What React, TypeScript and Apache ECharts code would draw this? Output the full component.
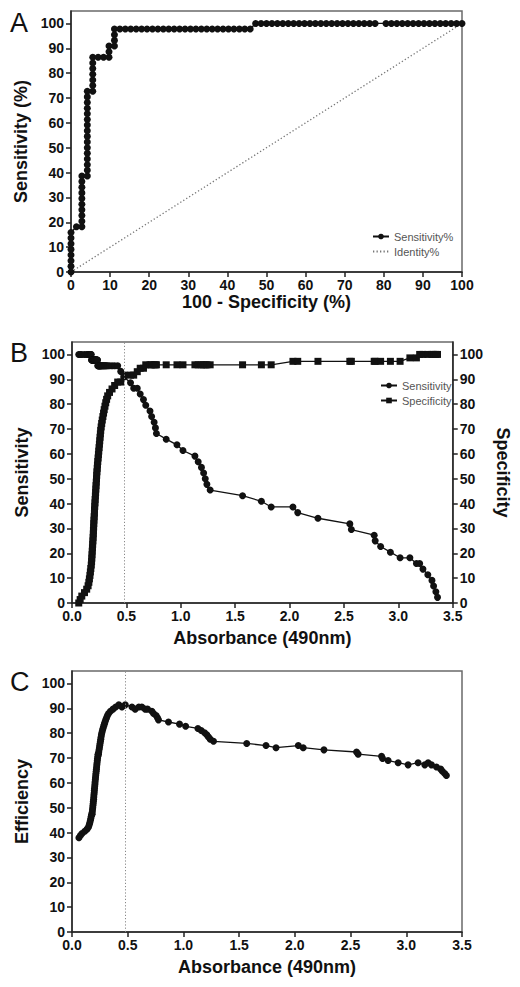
import React, { useEffect, useRef } from "react";
import * as echarts from "echarts";

const FONT = '"Liberation Sans", Arial, Helvetica, sans-serif';

// ---------- Panel A: ROC curve ----------
const rocFpr = [
  0, 0, 0, 0, 0, 0, 0, 0,
  1.39,
  2.78, 2.78, 2.78, 2.78, 2.78, 2.78, 2.78, 2.78, 2.78, 2.78,
  4.17, 4.17, 4.17, 4.17, 4.17, 4.17, 4.17, 4.17, 4.17, 4.17, 4.17, 4.17, 4.17, 4.17, 4.17, 4.17,
  5.56, 5.56, 5.56, 5.56, 5.56, 5.56, 5.56,
  6.94, 8.33, 9.72, 9.72, 9.72,
  11.11, 11.11, 11.11, 11.11,
  12.5, 13.89, 15.28, 16.67, 18.06, 19.44, 20.83, 22.22, 23.61, 25, 26.39, 27.78, 29.17,
  30.56, 31.94, 33.33, 34.72, 36.11, 37.5, 38.89, 40.28, 41.67, 43.06, 44.44, 45.83,
  47.22, 48.61, 50, 51.39, 52.78, 54.17, 55.56, 56.94, 58.33, 59.72, 61.11, 62.5, 63.89,
  65.28, 66.67, 68.06, 69.44, 70.83, 72.22, 73.61, 75, 76.39, 77.78,
  80.56, 81.94, 83.33, 84.72, 86.11, 87.5, 88.89, 90.28, 91.67, 93.06, 94.44, 95.83, 97.22, 98.61, 100,
];
const rocSens = [
  0, 2.27, 4.55, 6.82, 9.09, 11.36, 13.64, 15.91,
  18.18,
  18.18, 20.45, 22.73, 25, 27.27, 29.55, 31.82, 34.09, 36.36, 38.64,
  38.64, 40.91, 43.18, 45.45, 47.73, 50, 52.27, 54.55, 56.82, 59.09, 61.36, 63.64, 65.91, 68.18, 70.45, 72.73,
  72.73, 75, 77.27, 79.55, 81.82, 84.09, 86.36,
  86.36, 86.36, 86.36, 88.64, 90.91,
  90.91, 93.18, 95.45, 97.73,
  97.73, 97.73, 97.73, 97.73, 97.73, 97.73, 97.73, 97.73, 97.73, 97.73, 97.73, 97.73, 97.73,
  97.73, 97.73, 97.73, 97.73, 97.73, 97.73, 97.73, 97.73, 97.73, 97.73, 97.73, 97.73,
  100, 100, 100, 100, 100, 100, 100, 100, 100, 100, 100, 100, 100,
  100, 100, 100, 100, 100, 100, 100, 100, 100, 100,
  100, 100, 100, 100, 100, 100, 100, 100, 100, 100, 100, 100, 100, 100, 100,
];
const identityX = [0, 100];
const identityY = [0, 100];

// ---------- Panels B & C: cut-off analysis ----------
const absorbance = [
  0.062, 0.075, 0.09, 0.115, 0.135, 0.148, 0.155, 0.16, 0.165, 0.169, 0.173, 0.177,
  0.18, 0.182, 0.184, 0.186, 0.188, 0.19, 0.192, 0.194, 0.196, 0.197,
  0.199, 0.2, 0.202, 0.204, 0.206, 0.207, 0.209, 0.211, 0.213, 0.215,
  0.217, 0.219, 0.221, 0.223, 0.225, 0.227, 0.229, 0.232, 0.234,
  0.237, 0.24, 0.243, 0.246, 0.249, 0.252, 0.255, 0.258, 0.261, 0.264,
  0.268, 0.273, 0.278, 0.284, 0.29, 0.296, 0.303, 0.31, 0.318, 0.328,
  0.345, 0.368, 0.392, 0.42,
  0.448, 0.478, 0.538, 0.567, 0.6, 0.627, 0.657, 0.678, 0.717, 0.732, 0.755, 0.767, 0.776,
  0.866, 0.965, 1.02, 1.13, 1.16, 1.19, 1.21, 1.225, 1.24, 1.27,
  1.568, 1.741, 1.831, 2.031, 2.075, 2.261, 2.554, 2.568, 2.778, 2.787, 2.837, 2.927,
  3.016, 3.106, 3.166, 3.196, 3.226, 3.271, 3.309, 3.324, 3.345, 3.36,
];
const sensitivity = [
  100, 100, 100, 100, 100, 100, 100, 100, 100, 100, 100, 100,
  97.73, 97.73, 97.73, 97.73, 97.73, 97.73, 97.73, 97.73, 97.73, 97.73,
  97.73, 97.73, 97.73, 97.73, 97.73, 97.73, 97.73, 97.73, 97.73, 97.73,
  97.73, 97.73, 97.73, 97.73, 97.73, 97.73, 97.73, 97.73, 97.73,
  95.45, 95.45, 95.45, 95.45, 95.45, 95.45, 95.45, 95.45, 95.45, 95.45,
  95.45, 95.45, 95.45, 95.45, 95.45, 95.45, 95.45, 95.45, 95.45, 95.45,
  95.45, 95.45, 95.45, 95.45,
  93.18, 90.91, 88.64, 86.36, 86.36, 84.09, 81.82, 79.55, 77.27, 75, 72.73, 70.45, 68.18,
  65.91, 63.64, 61.36, 59.09, 56.82, 54.55, 52.27, 50, 47.73, 45.45,
  43.18, 40.91, 38.64, 38.64, 36.36, 34.09, 31.82, 29.55, 27.27, 25, 22.73, 20.45,
  18.18, 18.18, 15.91, 15.91, 13.64, 11.36, 9.09, 6.82, 4.55, 2.27,
];
const specificity = [
  0, 1.39, 2.78, 4.17, 5.56, 6.94, 8.33, 9.72, 11.11, 12.5, 13.89, 15.28,
  16.67, 18.06, 19.44, 20.83, 22.22, 23.61, 25, 26.39, 27.78, 29.17,
  30.56, 31.94, 33.33, 34.72, 36.11, 37.5, 38.89, 40.28, 41.67, 43.06,
  44.44, 45.83, 47.22, 48.61, 50, 51.39, 52.78, 54.17, 55.56,
  56.94, 58.33, 59.72, 61.11, 62.5, 63.89, 65.28, 66.67, 68.06, 69.44,
  70.83, 72.22, 73.61, 75, 76.39, 77.78, 79.17, 80.56, 81.94, 83.33,
  84.72, 86.11, 87.5, 88.89,
  88.89, 91.67, 91.67, 91.67, 93.06, 94.44, 94.44, 95.83, 95.83, 95.83, 95.83, 95.83, 95.83,
  95.83, 95.83, 95.83, 95.83, 95.83, 95.83, 95.83, 95.83, 95.83, 95.83,
  95.83, 95.83, 95.83, 97.22, 97.22, 97.22, 97.22, 97.22, 97.22, 97.22, 97.22, 97.22,
  97.22, 98.61, 98.61, 100, 100, 100, 100, 100, 100, 100,
];
const efficiency = [
  37.93, 38.79, 39.66, 40.52, 41.38, 42.24, 43.1, 43.97, 44.83, 45.69, 46.55, 47.41,
  47.41, 48.28, 49.14, 50, 50.86, 51.72, 52.59, 53.45, 54.31, 55.17,
  56.03, 56.9, 57.76, 58.62, 59.48, 60.34, 61.21, 62.07, 62.93, 63.79,
  64.66, 65.52, 66.38, 67.24, 68.1, 68.97, 69.83, 70.69, 71.55,
  71.55, 72.41, 73.28, 74.14, 75, 75.86, 76.72, 77.59, 78.45, 79.31,
  80.17, 81.03, 81.9, 82.76, 83.62, 84.48, 85.34, 86.21, 87.07, 87.93,
  88.79, 89.66, 90.52, 91.38,
  90.52, 91.38, 90.52, 89.66, 90.52, 90.52, 89.66, 89.66, 88.79, 87.93, 87.07, 86.21, 85.34,
  84.48, 83.62, 82.76, 81.9, 81.03, 80.17, 79.31, 78.45, 77.59, 76.72,
  75.86, 75, 74.14, 75, 74.14, 73.28, 72.41, 71.55, 70.69, 69.83, 68.97, 68.1,
  67.24, 68.1, 67.24, 68.1, 67.24, 66.38, 65.52, 64.66, 63.79, 62.93,
];
const cutoff = 0.48;

// ---------- tick values ----------
const percentTicks = [0, 10, 20, 30, 40, 50, 60, 70, 80, 90, 100];
const absTicks = [0, 0.5, 1, 1.5, 2, 2.5, 3, 3.5];

const INK = "#111";
const AXIS = "#222";

const labelStyle = { color: INK, fontSize: 14, fontWeight: "bold" as const, fontFamily: FONT };
const nameStyle = { color: INK, fontSize: 18, fontWeight: "bold" as const, fontFamily: FONT };
const axisLine = { show: true, onZero: false, lineStyle: { color: AXIS, width: 1.5 } };
const axisTickBase = { show: true, inside: false, length: 5, lineStyle: { color: AXIS, width: 1.5 } };

function pctYAxis(gridIndex: number, name: string, position: "left" | "right", gap: number, rotate: number) {
  return {
    type: "value",
    gridIndex,
    position,
    min: 0,
    max: 105,
    name,
    nameLocation: "middle",
    nameGap: gap,
    nameRotate: rotate,
    nameTextStyle: nameStyle,
    axisLine,
    axisTick: { ...axisTickBase, customValues: percentTicks },
    axisLabel: { ...labelStyle, margin: 7, customValues: percentTicks },
    splitLine: { show: false },
  };
}

function absXAxis(gridIndex: number) {
  return {
    type: "value",
    gridIndex,
    min: absTicks[0],
    max: absTicks[absTicks.length - 1],
    interval: 0.5,
    name: "Absorbance (490nm)",
    nameLocation: "middle",
    nameGap: 26,
    nameTextStyle: nameStyle,
    axisLine,
    axisTick: { ...axisTickBase, customValues: absTicks },
    axisLabel: {
      ...labelStyle,
      margin: 6,
      customValues: absTicks,
      formatter: (v: number) => v.toFixed(1),
    },
    splitLine: { show: false },
  };
}

const zip = (xs: number[], ys: number[]) => xs.map((x, i) => [x, ys[i]]);

const markCut = {
  silent: true,
  symbol: "none",
  label: { show: false },
  lineStyle: { type: [1.2, 2], color: "#888", width: 1 },
  data: [{ xAxis: cutoff }],
};

const gridBase = { show: true, borderColor: "#6a6a6a", borderWidth: 1.5, backgroundColor: "transparent", containLabel: false };

const legendText = { fontSize: 11, color: "#555", fontFamily: FONT };

const option = {
  animation: false,
  backgroundColor: "#fff",
  textStyle: { fontFamily: FONT },
  grid: [
    { ...gridBase, left: 71, top: 11, width: 391, height: 261 },
    { ...gridBase, left: 72, top: 342, width: 390, height: 261 },
    { ...gridBase, left: 72, top: 671, width: 390, height: 261 },
  ],
  xAxis: [
    {
      type: "value",
      gridIndex: 0,
      min: 0,
      max: 100,
      interval: 10,
      name: "100 - Specificity (%)",
      nameLocation: "middle",
      nameGap: 19,
      nameTextStyle: nameStyle,
      axisLine,
      axisTick: axisTickBase,
      axisLabel: { ...labelStyle, margin: 6 },
      splitLine: { show: false },
    },
    absXAxis(1),
    absXAxis(2),
  ],
  yAxis: [
    pctYAxis(0, "Sensitivity (%)", "left", 28, 90),
    pctYAxis(1, "Sensitivity", "left", 29, 90),
    pctYAxis(1, "Specificity", "right", 33, -90),
    pctYAxis(2, "Efficiency", "left", 29, 90),
  ],
  legend: [
    {
      data: [
        { name: "Sensitivity%" },
        { name: "Identity%", itemStyle: { opacity: 0 } },
      ],
      left: 367,
      top: 226,
      orient: "vertical",
      itemWidth: 16,
      itemHeight: 7,
      itemGap: 4,
      selectedMode: false,
      textStyle: legendText,
    },
    {
      data: ["Sensitivity", "Specificity"],
      left: 375,
      top: 375,
      orient: "vertical",
      itemWidth: 16,
      itemHeight: 7,
      itemGap: 4,
      selectedMode: false,
      textStyle: legendText,
    },
  ],
  graphic: [
    { type: "text", left: 10, top: 9, style: { text: "A", font: `normal 27px ${FONT}`, fill: INK } },
    { type: "text", left: 10, top: 339, style: { text: "B", font: `normal 27px ${FONT}`, fill: INK } },
    { type: "text", left: 10, top: 668, style: { text: "C", font: `normal 27px ${FONT}`, fill: INK } },
  ],
  series: [
    {
      name: "Identity%",
      type: "line",
      xAxisIndex: 0,
      yAxisIndex: 0,
      data: zip(identityX, identityY),
      symbol: "none",
      lineStyle: { color: "#777", width: 1.3, type: [1.3, 2.2] },
      itemStyle: { color: "#777" },
      z: 1,
    },
    {
      name: "Sensitivity%",
      type: "line",
      xAxisIndex: 0,
      yAxisIndex: 0,
      data: zip(rocFpr, rocSens),
      symbol: "circle",
      symbolSize: 7,
      lineStyle: { color: INK, width: 1.3 },
      itemStyle: { color: INK },
      z: 3,
    },
    {
      name: "Sensitivity",
      type: "line",
      xAxisIndex: 1,
      yAxisIndex: 1,
      data: zip(absorbance, sensitivity),
      symbol: "circle",
      symbolSize: 7,
      lineStyle: { color: INK, width: 1.3 },
      itemStyle: { color: INK },
      markLine: markCut,
      z: 3,
    },
    {
      name: "Specificity",
      type: "line",
      xAxisIndex: 1,
      yAxisIndex: 2,
      data: zip(absorbance, specificity),
      symbol: "rect",
      symbolSize: 7,
      lineStyle: { color: INK, width: 1.3 },
      itemStyle: { color: INK },
      z: 3,
    },
    {
      name: "Efficiency",
      type: "line",
      xAxisIndex: 2,
      yAxisIndex: 3,
      data: zip(absorbance, efficiency),
      symbol: "circle",
      symbolSize: 7,
      lineStyle: { color: INK, width: 1.3 },
      itemStyle: { color: INK },
      markLine: markCut,
      z: 3,
    },
  ],
};

export default function App() {
  const ref = useRef<HTMLDivElement>(null);
  useEffect(() => {
    if (!ref.current) return;
    const chart = echarts.init(ref.current, null, { renderer: "svg" });
    chart.setOption(option as any);
    return () => chart.dispose();
  }, []);
  return (
    <div
      ref={ref}
      style={{ position: "absolute", left: 0, top: 0, width: 520, height: 987, background: "#fff" }}
    />
  );
}
